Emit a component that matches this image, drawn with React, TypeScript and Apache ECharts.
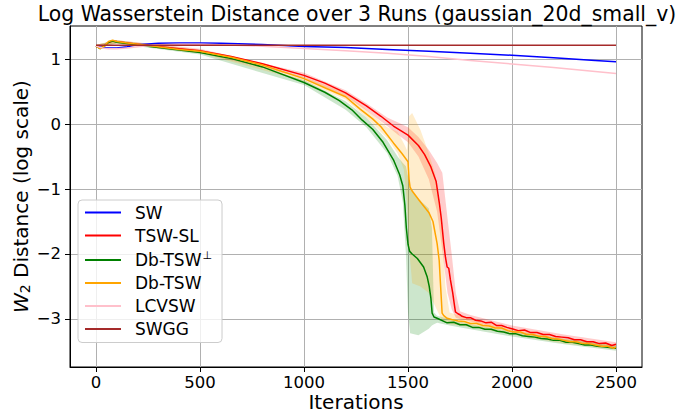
import React, { useEffect, useRef } from 'react';
import * as echarts from 'echarts';

const FONT = 'DejaVu Sans';

const titleText = 'Log Wasserstein Distance over 3 Runs (gaussian_20d_small_v)';
const xTicks = [0, 500, 1000, 1500, 2000, 2500];
const yTicks = [-3, -2, -1, 0, 1];
const seriesNames = ['SW', 'TSW-SL', 'Db-TSW⊥', 'Db-TSW', 'LCVSW', 'SWGG'];
const seriesColors = ['#0000ff', '#ff0000', '#008000', '#ffa500', '#ffc0cb', '#a52a2a'];

// SW
const swX = [0, 30, 60, 100, 150, 200, 300, 400, 500, 600, 800, 1000, 1200, 1400, 1600, 1800, 2000, 2200, 2400, 2500];
const swY = [1.2, 1.18, 1.17, 1.17, 1.19, 1.22, 1.245, 1.25, 1.25, 1.245, 1.225, 1.195, 1.18, 1.15, 1.12, 1.09, 1.06, 1.02, 0.98, 0.96];

// LCVSW
const lcX = [0, 30, 60, 100, 150, 200, 300, 400, 500, 600, 800, 1000, 1200, 1400, 1600, 1800, 2000, 2200, 2400, 2500];
const lcY = [1.2, 1.17, 1.16, 1.16, 1.17, 1.19, 1.22, 1.23, 1.23, 1.22, 1.2, 1.165, 1.13, 1.09, 1.04, 0.98, 0.925, 0.87, 0.81, 0.78];

// SWGG
const sgX = [0, 500, 1000, 1500, 2000, 2500];
const sgY = [1.215, 1.215, 1.215, 1.215, 1.215, 1.215];

// TSW-SL
const redX = [0, 20, 40, 60, 80, 100, 150, 250, 400, 500, 650, 800, 1000, 1100, 1200, 1300, 1370, 1430, 1500, 1550, 1580, 1610, 1635, 1650, 1660, 1672, 1680, 1688, 1696, 1704, 1715, 1722, 1728, 1740, 1752,
  1760, 1780, 1800, 1825, 1850, 1875, 1900, 1925, 1950, 1975, 2000, 2030, 2060, 2090, 2120, 2150, 2180, 2210, 2240, 2270, 2300, 2330, 2360, 2390, 2420, 2450, 2480, 2500];
const redY = [1.2, 1.17, 1.2, 1.26, 1.28, 1.27, 1.25, 1.21, 1.16, 1.13, 1.04, 0.93, 0.75, 0.63, 0.48, 0.28, 0.12, -0.03, -0.17, -0.33, -0.47, -0.66, -0.88, -1.2, -1.45, -1.84, -2.05, -2.2, -2.22, -2.4, -2.6, -2.76, -2.89, -2.92, -2.94,
  -2.96, -2.98, -2.98, -3.02, -3.03, -3.06, -3.05, -3.1, -3.1, -3.13, -3.15, -3.18, -3.17, -3.21, -3.21, -3.24, -3.24, -3.27, -3.28, -3.29, -3.32, -3.32, -3.35, -3.35, -3.38, -3.37, -3.41, -3.39];
const redBandX = [0, 100, 500, 1000, 1200, 1300, 1400, 1450, 1500, 1550, 1600, 1640, 1665, 1690, 1710, 1730, 1750, 1800, 2000, 2250, 2500];
const redBandLo = [1.18, 1.24, 1.1, 0.71, 0.43, 0.21, -0.03, -0.16, -0.28, -0.5, -0.85, -1.35, -1.95, -2.6, -2.85, -2.98, -3.0, -3.04, -3.2, -3.34, -3.44];
const redBandHi = [1.22, 1.29, 1.16, 0.79, 0.52, 0.32, 0.1, 0.03, -0.05, -0.2, -0.4, -0.6, -0.75, -1.45, -2.0, -2.6, -2.88, -2.94, -3.1, -3.24, -3.36];

// Db-TSW
const orX = [0, 20, 40, 60, 80, 100, 150, 250, 400, 500, 650, 800, 1000, 1100, 1200, 1270, 1330, 1370, 1430, 1470, 1500, 1505, 1510, 1520, 1560, 1600, 1620, 1640, 1650, 1656, 1664, 1672, 1688,
  1710, 1740, 1770, 1800, 1830, 1860, 1890, 1920, 1950, 1980, 2010, 2040, 2070, 2100, 2130, 2160, 2190, 2220, 2250, 2280, 2310, 2340, 2370, 2400, 2430, 2460, 2490, 2500];
const orY = [1.2, 1.16, 1.2, 1.27, 1.29, 1.27, 1.25, 1.21, 1.15, 1.12, 1.03, 0.91, 0.7, 0.56, 0.42, 0.23, 0.08, -0.04, -0.29, -0.45, -0.58, -0.85, -0.97, -1.03, -1.2, -1.36, -1.5, -1.84, -2.1, -2.45, -2.91, -2.95, -2.99,
  -3.01, -3.03, -3.04, -3.07, -3.07, -3.1, -3.11, -3.14, -3.14, -3.18, -3.2, -3.2, -3.24, -3.24, -3.27, -3.27, -3.3, -3.31, -3.33, -3.35, -3.35, -3.38, -3.38, -3.4, -3.42, -3.42, -3.45, -3.43];
const orBandX = [0, 100, 500, 1000, 1200, 1300, 1400, 1450, 1480, 1495, 1505, 1520, 1560, 1600, 1630, 1660, 1680, 1700, 1800, 2000, 2250, 2500];
const orBandLo = [1.18, 1.24, 1.09, 0.66, 0.38, 0.1, -0.22, -0.45, -0.7, -1.2, -1.9, -2.45, -2.5, -2.6, -2.8, -3.0, -3.05, -3.08, -3.12, -3.24, -3.38, -3.47];
const orBandHi = [1.22, 1.29, 1.15, 0.73, 0.48, 0.22, -0.05, -0.12, -0.3, -0.4, 0.12, 0.17, -0.09, -0.45, -0.76, -1.4, -2.5, -2.9, -3.0, -3.16, -3.3, -3.41];

// Db-TSW⊥
const grX = [0, 20, 40, 60, 80, 100, 150, 250, 400, 500, 650, 800, 1000, 1100, 1170, 1230, 1280, 1330, 1380, 1430, 1460, 1475, 1485, 1492, 1500, 1508, 1520, 1545, 1575, 1592, 1602, 1610, 1616, 1625, 1640, 1688,
  1720, 1750, 1780, 1810, 1840, 1870, 1900, 1930, 1960, 1990, 2020, 2050, 2080, 2110, 2140, 2170, 2200, 2230, 2260, 2290, 2320, 2350, 2380, 2410, 2440, 2470, 2500];
const grY = [1.2, 1.16, 1.2, 1.26, 1.28, 1.26, 1.24, 1.2, 1.14, 1.1, 1.01, 0.88, 0.64, 0.49, 0.36, 0.22, 0.06, -0.08, -0.28, -0.55, -0.78, -0.95, -1.25, -1.6, -1.85, -1.96, -2.0, -2.07, -2.2, -2.35, -2.5, -2.68, -2.91, -2.97, -2.99, -3.06,
  -3.05, -3.09, -3.09, -3.13, -3.13, -3.16, -3.16, -3.19, -3.2, -3.23, -3.23, -3.26, -3.27, -3.28, -3.3, -3.31, -3.33, -3.33, -3.36, -3.36, -3.38, -3.4, -3.4, -3.42, -3.43, -3.44, -3.45];
const grBandX = [0, 100, 500, 1000, 1200, 1300, 1400, 1450, 1475, 1490, 1500, 1510, 1550, 1600, 1615, 1625, 1640, 1700, 1800, 2000, 2250, 2500];
const grBandLo = [1.18, 1.24, 1.07, 0.6, 0.22, -0.05, -0.45, -0.8, -1.2, -2.0, -2.9, -3.22, -3.25, -3.15, -3.1, -3.08, -3.06, -3.1, -3.16, -3.27, -3.39, -3.49];
const grBandHi = [1.22, 1.29, 1.13, 0.68, 0.35, 0.1, -0.25, -0.5, -0.6, -0.65, -0.8, -1.0, -1.15, -1.3, -1.6, -2.9, -2.95, -3.0, -3.08, -3.19, -3.31, -3.41];

const pairs = (xs: number[], ys: number[]) => xs.map((x, i) => [x, ys[i]]);

function bandSeries(name: string, xs: number[], lo: number[], hi: number[], fill: string) {
  return {
    type: 'custom',
    name,
    silent: true,
    clip: true,
    z: 1,
    data: xs.map((x, i) => [x, lo[i], hi[i]]),
    encode: { x: 0, y: [1, 2] },
    renderItem: (params: any, api: any) => {
      if (params.dataIndex !== 0) return null;
      const pts: number[][] = [];
      for (let i = 0; i < xs.length; i++) pts.push(api.coord([xs[i], hi[i]]));
      for (let i = xs.length - 1; i >= 0; i--) pts.push(api.coord([xs[i], lo[i]]));
      return { type: 'polygon', shape: { points: pts }, style: { fill, stroke: 'none' } };
    },
  };
}

function lineSeries(idx: number, xs: number[], ys: number[]) {
  return {
    type: 'line',
    name: seriesNames[idx],
    data: pairs(xs, ys),
    showSymbol: false,
    symbol: 'none',
    color: seriesColors[idx],
    lineStyle: { width: 1.5, color: seriesColors[idx] },
    z: 3,
  };
}

const option: any = {
  animation: false,
  backgroundColor: '#ffffff',
  textStyle: { fontFamily: FONT },
  graphic: [
    {
      type: 'text',
      x: 357,
      y: 4,
      style: { text: titleText, textAlign: 'center', fontSize: 20.4, fontFamily: FONT, fill: '#000' },
    },
  ],
  grid: {
    left: 70, right: 36, top: 26, bottom: 48,
    outerBoundsMode: 'none',
    containLabel: false,
    show: true, borderColor: '#000', borderWidth: 1, backgroundColor: 'transparent',
  },
  xAxis: {
    type: 'value',
    min: -125,
    max: 2625,
    name: 'Iterations',
    nameLocation: 'middle',
    nameGap: 24,
    nameMoveOverlap: false,
    nameTextStyle: { fontSize: 20, color: '#000', fontFamily: FONT, lineHeight: 22 },
    axisLine: { show: true, onZero: false, lineStyle: { color: '#000', width: 1 } },
    axisTick: { show: true, length: 5, customValues: xTicks, lineStyle: { color: '#000' } },
    axisLabel: { customValues: xTicks, fontSize: 16.5, color: '#000', margin: 7, fontFamily: FONT, formatter: (v: number) => String(v) },
    splitLine: { show: true, lineStyle: { color: '#b0b0b0', width: 1 } },
  },
  yAxis: {
    type: 'value',
    min: -3.74,
    max: 1.51,
    name: '{w|W}{s|2}{t| Distance (log scale)}',
    nameLocation: 'middle',
    nameGap: 38,
    nameMoveOverlap: false,
    nameRotate: 90,
    nameTextStyle: {
      fontSize: 20,
      color: '#000',
      fontFamily: FONT,
      rich: {
        w: { fontSize: 20, fontStyle: 'italic', fontFamily: FONT, color: '#000' },
        s: { fontSize: 14, fontFamily: FONT, color: '#000', padding: [8, 0, 0, 0] },
        t: { fontSize: 20, fontFamily: FONT, color: '#000' },
      },
    },
    axisLine: { show: true, onZero: false, lineStyle: { color: '#000', width: 1 } },
    axisTick: { show: true, length: 5, customValues: yTicks, lineStyle: { color: '#000' } },
    axisLabel: {
      customValues: yTicks,
      fontSize: 16.5,
      color: '#000',
      margin: 9,
      fontFamily: FONT,
      formatter: (v: number) => (v < 0 ? '\u2212' + Math.abs(v) : String(v)),
    },
    splitLine: { show: true, lineStyle: { color: '#b0b0b0', width: 1 } },
  },
  legend: {
    data: seriesNames,
    orient: 'vertical',
    left: 78,
    top: 200,
    padding: [4, 10, 5, 7],
    itemGap: 6,
    itemWidth: 36,
    itemHeight: 2,
    icon: 'rect',
    backgroundColor: 'rgba(255,255,255,0.8)',
    borderColor: '#cccccc',
    borderWidth: 1,
    borderRadius: 4,
    formatter: (name: string) => (name === 'Db-TSW⊥' ? '{a|Db-TSW}{s|⊥}' : '{a|' + name + '}'),
    textStyle: {
      fontSize: 17,
      color: '#000',
      fontFamily: FONT,
      padding: [0, 0, 0, 9],
      rich: {
        a: { fontSize: 17, fontFamily: FONT, color: '#000', lineHeight: 20 },
        s: { fontSize: 11, fontFamily: FONT, color: '#000', verticalAlign: 'top', lineHeight: 20, padding: [0, 0, 6, 1] },
      },
    },
  },
  series: [
    bandSeries('band-red', redBandX, redBandLo, redBandHi, 'rgba(255,0,0,0.2)'),
    bandSeries('band-green', grBandX, grBandLo, grBandHi, 'rgba(0,128,0,0.2)'),
    bandSeries('band-orange', orBandX, orBandLo, orBandHi, 'rgba(255,165,0,0.2)'),
    lineSeries(0, swX, swY),
    lineSeries(1, redX, redY),
    lineSeries(2, grX, grY),
    lineSeries(3, orX, orY),
    lineSeries(4, lcX, lcY),
    lineSeries(5, sgX, sgY),
  ],
};

export default function App() {
  const ref = useRef<HTMLDivElement>(null);
  useEffect(() => {
    document.body.style.margin = '0';
    const chart = echarts.init(ref.current!, null, { renderer: 'svg' });
    chart.setOption(option);
    return () => chart.dispose();
  }, []);
  return <div ref={ref} style={{ width: 678, height: 415, position: 'fixed', left: 0, top: 0 }} />;
}
